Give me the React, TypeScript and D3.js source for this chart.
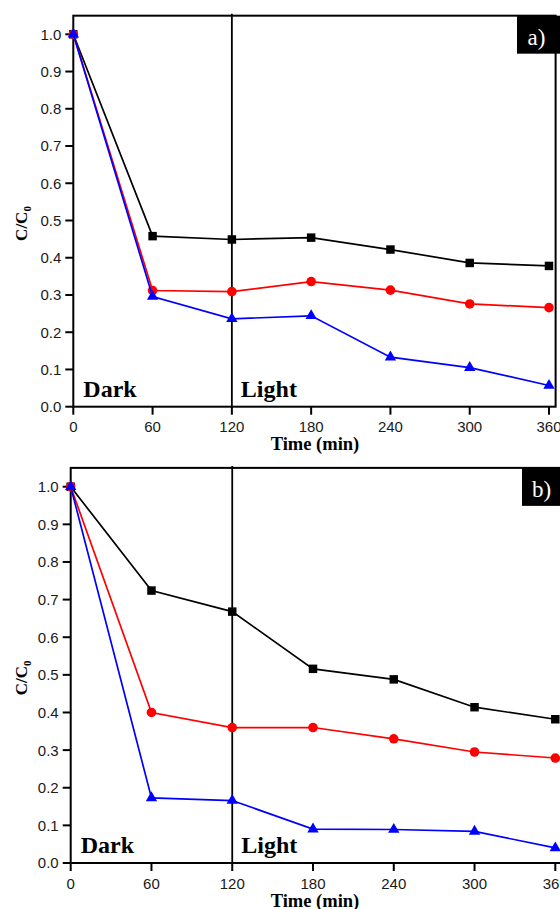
import React, { useRef, useEffect } from "react";
import * as d3 from "d3";

const times = [0, 60, 120, 180, 240, 300, 360];
const yTicks = [0, 0.1, 0.2, 0.3, 0.4, 0.5, 0.6, 0.7, 0.8, 0.9, 1.0];

const aBlack = [1.0, 0.458, 0.449, 0.454, 0.422, 0.386, 0.378];
const aRed = [1.0, 0.312, 0.309, 0.336, 0.313, 0.276, 0.266];
const aBlue = [1.0, 0.296, 0.236, 0.244, 0.133, 0.105, 0.057];

const bBlack = [1.0, 0.724, 0.668, 0.516, 0.488, 0.414, 0.382];
const bRed = [1.0, 0.4, 0.36, 0.36, 0.33, 0.295, 0.279];
const bBlue = [1.0, 0.173, 0.166, 0.09, 0.089, 0.084, 0.04];

const panels = [
  { label: "a)", x0: 73.3, x1: 549, yBottom: 406.7, yTop: 34.3, series: [aBlack, aRed, aBlue], boxX: 517, labelX: 536.5 },
  { label: "b)", x0: 70.7, x1: 555.3, yBottom: 863, yTop: 486.7, series: [bBlack, bRed, bBlue], boxX: 522, labelX: 541.5 },
];

const colors = ["#000000", "#ff0000", "#0000ff"];
const symbols = [d3.symbolSquare, d3.symbolCircle, d3.symbolTriangle];
const symbolSizes = [72, 72, 56];

const sans = "'Liberation Sans', Arial, sans-serif";
const serif = "'Liberation Serif', 'Times New Roman', serif";

const App = () => {
  const svgRef = useRef<SVGSVGElement>(null);

  useEffect(() => {
    const svg = d3.select(svgRef.current);
    svg.selectAll("*").remove();

    panels.forEach((p) => {
      const x = d3.scaleLinear().domain([0, 360]).range([p.x0, p.x1]);
      const y = d3.scaleLinear().domain([0, 1]).range([p.yBottom, p.yTop]);
      const g = svg.append("g");

      const left = x(0);
      const right = x(365);
      const top = y(1.05);
      const bottom = y(0);

      // label box
      g.append("rect")
        .attr("x", p.boxX)
        .attr("y", top)
        .attr("width", 60)
        .attr("height", 38)
        .attr("fill", "#000");
      g.append("text")
        .attr("x", p.labelX)
        .attr("y", top + 29)
        .attr("text-anchor", "middle")
        .attr("fill", "#fff")
        .attr("font-family", serif)
        .attr("font-size", 23)
        .text(p.label);

      // frame
      g.append("rect")
        .attr("x", left)
        .attr("y", top)
        .attr("width", right - left)
        .attr("height", bottom - top)
        .attr("fill", "none")
        .attr("stroke", "#000")
        .attr("stroke-width", 2);

      // dark / light divider
      g.append("line")
        .attr("x1", x(120))
        .attr("x2", x(120))
        .attr("y1", top - 2)
        .attr("y2", bottom)
        .attr("stroke", "#000")
        .attr("stroke-width", 1.8);

      // y axis ticks
      yTicks.forEach((t) => {
        g.append("line")
          .attr("x1", left - 8)
          .attr("x2", left)
          .attr("y1", y(t))
          .attr("y2", y(t))
          .attr("stroke", "#000")
          .attr("stroke-width", 2);
        g.append("text")
          .attr("x", left - 12)
          .attr("y", y(t))
          .attr("dy", "0.36em")
          .attr("text-anchor", "end")
          .attr("font-family", sans)
          .attr("font-size", 15)
          .attr("fill", "#1a1a1a")
          .text(t.toFixed(1));
      });

      // x axis ticks
      times.forEach((t) => {
        g.append("line")
          .attr("x1", x(t))
          .attr("x2", x(t))
          .attr("y1", bottom)
          .attr("y2", bottom + 8)
          .attr("stroke", "#000")
          .attr("stroke-width", 2);
        g.append("text")
          .attr("x", x(t))
          .attr("y", bottom + 25.5)
          .attr("text-anchor", "middle")
          .attr("font-family", sans)
          .attr("font-size", 15)
          .attr("fill", "#1a1a1a")
          .text(t);
      });

      // axis titles
      g.append("text")
        .attr("x", 315)
        .attr("y", bottom + 43.5)
        .attr("text-anchor", "middle")
        .attr("font-family", serif)
        .attr("font-weight", "bold")
        .attr("font-size", 18.5)
        .text("Time (min)");

      const yl = g
        .append("text")
        .attr("transform", `translate(27, ${y(0.5) + 3}) rotate(-90)`)
        .attr("text-anchor", "middle")
        .attr("font-family", serif)
        .attr("font-weight", "bold")
        .attr("font-size", 17);
      yl.append("tspan").text("C/C");
      yl.append("tspan").attr("font-size", 11).attr("dy", 4).text("0");

      // region labels
      g.append("text")
        .attr("x", left + 10)
        .attr("y", bottom - 10)
        .attr("font-family", serif)
        .attr("font-weight", "bold")
        .attr("font-size", 24)
        .text("Dark");
      g.append("text")
        .attr("x", x(120) + 9)
        .attr("y", bottom - 10)
        .attr("font-family", serif)
        .attr("font-weight", "bold")
        .attr("font-size", 24)
        .text("Light");

      // series
      const line = d3
        .line<number>()
        .x((d, i) => x(times[i]))
        .y((d) => y(d));

      p.series.forEach((s, k) => {
        g.append("path")
          .datum(s)
          .attr("d", line)
          .attr("fill", "none")
          .attr("stroke", colors[k])
          .attr("stroke-width", 1.7);
        g.selectAll(null)
          .data(s)
          .enter()
          .append("path")
          .attr("d", d3.symbol().type(symbols[k]).size(symbolSizes[k]))
          .attr("transform", (d, i) => `translate(${x(times[i])}, ${y(d)})`)
          .attr("fill", colors[k]);
      });
    });
  }, []);

  return (
    <svg
      ref={svgRef}
      width={560}
      height={909}
      style={{ position: "absolute", left: 0, top: 0, background: "#fff" }}
    />
  );
};

export default App;
